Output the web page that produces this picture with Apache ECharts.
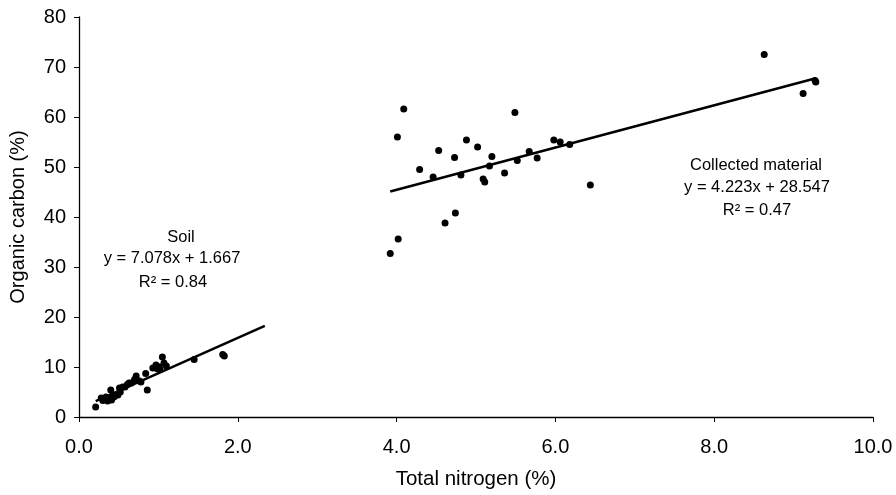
<!DOCTYPE html>
<html>
<head>
<meta charset="utf-8">
<script src="https://cdn.jsdelivr.net/npm/echarts@6/dist/echarts.min.js"></script>
<style>html,body{margin:0;padding:0;background:#fff}#c{width:896px;height:495px}</style>
</head>
<body>
<div id="c"></div>
<script>
// Soil samples: total nitrogen (%) and organic carbon (%)
const soilN = [0.21, 0.28, 0.30, 0.33, 0.34, 0.36, 0.36, 0.38, 0.40, 0.41, 0.42, 0.44, 0.47, 0.49, 0.51, 0.52, 0.55, 0.58, 0.61, 0.63, 0.66, 0.70, 0.72, 0.76, 0.78, 0.84, 0.86, 0.93, 0.97, 0.99, 1.01, 1.02, 1.05, 1.07, 1.10, 1.45, 1.81, 1.83];
const soilC = [2.0, 3.8, 3.3, 3.5, 4.0, 3.2, 3.5, 3.6, 5.4, 3.4, 4.2, 4.0, 4.4, 4.4, 5.8, 5.0, 6.0, 6.0, 6.5, 6.8, 6.8, 7.5, 8.2, 7.2, 7.0, 8.7, 5.4, 9.8, 10.4, 9.6, 10.0, 9.5, 12.0, 10.8, 10.2, 11.5, 12.5, 12.2];
// Collected material
const collN = [4.09, 4.01, 5.49, 4.88, 4.53, 5.02, 4.73, 5.20, 4.29, 4.46, 4.81, 5.17, 5.09, 5.11, 5.36, 5.52, 5.67, 5.77, 5.98, 6.06, 6.18, 6.44, 4.74, 4.61, 4.02, 3.92, 8.63, 9.12, 9.28, 9.27];
const collC = [61.6, 56.0, 60.9, 55.4, 53.3, 54.0, 51.9, 52.1, 49.5, 48.0, 48.4, 50.2, 47.6, 47.0, 48.8, 51.3, 53.1, 51.8, 55.4, 55.0, 54.5, 46.4, 40.8, 38.8, 35.6, 32.7, 72.5, 64.7, 67.0, 67.3];
// Regression fits: [slope, intercept], x range
const soilFit = [7.078, 1.667];
const soilFitRange = [0.21, 2.34];
const collFit = [4.223, 28.547];
const collFitRange = [3.92, 9.28];
// Axis ticks
const xTicks = [0, 2, 4, 6, 8, 10];
const yTicks = [0, 10, 20, 30, 40, 50, 60, 70, 80];
// Annotation text
const soilLabel = ['Soil', 'y = 7.078x + 1.667', 'R² = 0.84'];
const collLabel = ['Collected material', 'y = 4.223x + 28.547', 'R² = 0.47'];

const zip = (a, b) => a.map((v, i) => [v, b[i]]);
const fitLine = (f, r) => r.map(x => [x, f[0] * x + f[1]]);

const chart = echarts.init(document.getElementById('c'), null, {renderer: 'canvas'});
const font = 'Liberation Sans, Arial, sans-serif';
const txt = (s, x, y) => ({type: 'text', x: x, y: y, style: {text: s, fill: '#000', font: '16.5px ' + font, textAlign: 'center', textVerticalAlign: 'middle'}});
chart.setOption({
  animation: false,
  backgroundColor: '#fff',
  grid: {left: 78, right: 23, top: 17, bottom: 78},
  xAxis: {
    type: 'value', min: xTicks[0], max: xTicks[xTicks.length - 1], interval: 2,
    name: 'Total nitrogen (%)', nameLocation: 'middle', nameGap: 52,
    nameTextStyle: {color: '#000', fontSize: 20.5, fontFamily: font},
    axisLine: {show: true, lineStyle: {color: '#000', width: 1.3}},
    axisTick: {show: true, length: 5, lineStyle: {color: '#000'}},
    axisLabel: {color: '#000', fontSize: 20, fontFamily: font, margin: 20, formatter: v => v.toFixed(1)},
    splitLine: {show: false}
  },
  yAxis: {
    type: 'value', min: yTicks[0], max: yTicks[yTicks.length - 1], interval: 10,
    name: 'Organic carbon (%)', nameLocation: 'middle', nameGap: 51,
    nameTextStyle: {color: '#000', fontSize: 20, fontFamily: font},
    axisLine: {show: true, lineStyle: {color: '#000', width: 1.3}},
    axisTick: {show: true, length: 5, lineStyle: {color: '#000'}},
    axisLabel: {color: '#000', fontSize: 20, fontFamily: font, margin: 13},
    splitLine: {show: false}
  },
  series: [
    {type: 'line', data: fitLine(soilFit, soilFitRange), symbol: 'none', lineStyle: {color: '#000', width: 2.5}, z: 3},
    {type: 'line', data: fitLine(collFit, collFitRange), symbol: 'none', lineStyle: {color: '#000', width: 2.5}, z: 3},
    {type: 'scatter', data: zip(soilN, soilC), symbolSize: 7, itemStyle: {color: '#000', opacity: 1}, z: 4},
    {type: 'scatter', data: zip(collN, collC), symbolSize: 7, itemStyle: {color: '#000', opacity: 1}, z: 4}
  ],
  graphic: [
    txt(soilLabel[0], 181, 237),
    txt(soilLabel[1], 172, 258),
    txt(soilLabel[2], 173, 282),
    txt(collLabel[0], 756, 165),
    txt(collLabel[1], 757, 187),
    txt(collLabel[2], 757, 210)
  ]
});
</script>
</body>
</html>
